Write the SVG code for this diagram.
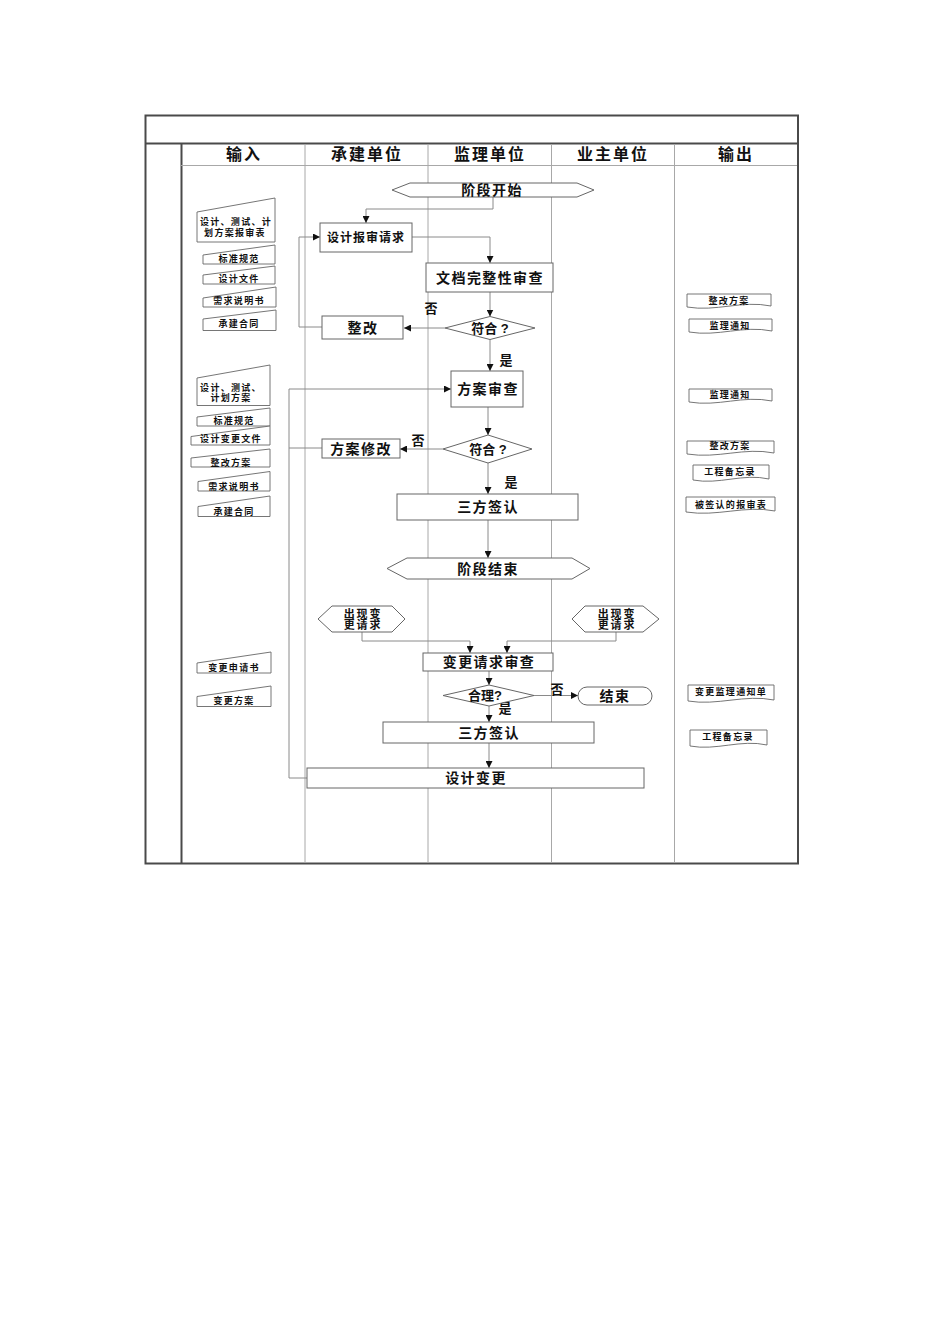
<svg xmlns="http://www.w3.org/2000/svg" width="950" height="1344" viewBox="0 0 950 1344">
<style>
text{font-family:"Liberation Sans","Noto Sans CJK SC",sans-serif;font-weight:bold;fill:#111;text-anchor:middle;dominant-baseline:central}
.hd{font-size:16px;letter-spacing:2px}
.nd{font-size:14px;letter-spacing:1.4px}
.sm{font-size:12px;letter-spacing:1px}
.hx{font-size:11px;letter-spacing:1.8px}
.dc{font-size:9px;letter-spacing:1.3px}
.lb{font-size:13px}
.box{fill:#fff;stroke:#666;stroke-width:1}
.doc{fill:#fff;stroke:#666;stroke-width:0.9}
.lane{stroke:#a8a8a8;stroke-width:1;fill:none}
.frm{stroke:#4a4a4a;stroke-width:2;fill:none}
.cn{fill:none;stroke:#8a8a8a;stroke-width:1}
</style>
<defs>
<marker id="ah" viewBox="0 0 8 8" refX="8" refY="4" markerWidth="7" markerHeight="7" markerUnits="userSpaceOnUse" orient="auto">
<path d="M0,0 L8,4 L0,8 z" fill="#111"/>
</marker>
</defs>
<rect width="950" height="1344" fill="#fff"/>
<g id="frame">
<rect class="frm" x="145.5" y="115.5" width="652.5" height="748"/>
<line class="frm" x1="145" y1="143.5" x2="798" y2="143.5"/>
<line class="frm" x1="181.5" y1="143.5" x2="181.5" y2="863"/>
<line class="lane" x1="181" y1="165.5" x2="797" y2="165.5"/>
<line class="lane" x1="305" y1="144" x2="305" y2="863"/>
<line class="lane" x1="428" y1="144" x2="428" y2="863"/>
<line class="lane" x1="551.5" y1="144" x2="551.5" y2="863"/>
<line class="lane" x1="674.5" y1="144" x2="674.5" y2="863"/>
<text class="hd" x="244" y="154.5">输入</text>
<text class="hd" x="367" y="154.5">承建单位</text>
<text class="hd" x="490" y="154.5">监理单位</text>
<text class="hd" x="613" y="154.5">业主单位</text>
<text class="hd" x="736" y="154.5">输出</text>
</g>
<g id="connectors">
<path class="cn" d="M493,197 V209 H366 V223" marker-end="url(#ah)"/>
<path class="cn" d="M412,237 H490 V263" marker-end="url(#ah)"/>
<path class="cn" d="M490,292 V316.5" marker-end="url(#ah)"/>
<path class="cn" d="M445,328 H404" marker-end="url(#ah)"/>
<path class="cn" d="M322,327 H299 V237 H320" marker-end="url(#ah)"/>
<path class="cn" d="M490,339.5 V371" marker-end="url(#ah)"/>
<path class="cn" d="M307,778 H289 V389 H451" marker-end="url(#ah)"/>
<path class="cn" d="M322,448 H289"/>
<path class="cn" d="M488,407 V435" marker-end="url(#ah)"/>
<path class="cn" d="M443,449 H400" marker-end="url(#ah)"/>
<path class="cn" d="M488,463 V494" marker-end="url(#ah)"/>
<path class="cn" d="M488,520 V558" marker-end="url(#ah)"/>
<path class="cn" d="M362,632 V641 H470 V653" marker-end="url(#ah)"/>
<path class="cn" d="M616,632 V641 H507 V653" marker-end="url(#ah)"/>
<path class="cn" d="M489,671 V685" marker-end="url(#ah)"/>
<path class="cn" d="M534,695.5 H578" marker-end="url(#ah)"/>
<path class="cn" d="M489,706 V722" marker-end="url(#ah)"/>
<path class="cn" d="M489,743 V768" marker-end="url(#ah)"/>
<text class="lb" x="431" y="308">否</text>
<text class="lb" x="506" y="360">是</text>
<text class="lb" x="418" y="440">否</text>
<text class="lb" x="511" y="482">是</text>
<text class="lb" x="557" y="689">否</text>
<text class="lb" x="505" y="708">是</text>
</g>
<g id="n-start"><polygon class="box" points="392,190 410,183 577,183 594,190 577,197 410,197"/><text class="nd" x="492" y="190">阶段开始</text></g>
<g id="n-req"><rect class="box" x="320" y="223" width="92" height="29"/><text class="sm" x="366" y="237.5">设计报审请求</text></g>
<g id="n-docchk"><rect class="box" x="426" y="263" width="127" height="29"/><text class="nd" x="490" y="277.5">文档完整性审查</text></g>
<g id="n-ok1"><polygon class="box" points="445,328 490,316.5 535,328 490,339.5"/><text class="lb" x="490" y="328">符合 ?</text></g>
<g id="n-fix"><rect class="box" x="322" y="316" width="81" height="23"/><text class="nd" x="363" y="327.5">整改</text></g>
<g id="n-plan"><rect class="box" x="451" y="371" width="72" height="36"/><text class="nd" x="488" y="389">方案审查</text></g>
<g id="n-ok2"><polygon class="box" points="443,449 488,435 532,449 488,463"/><text class="lb" x="488" y="449">符合 ?</text></g>
<g id="n-planfix"><rect class="box" x="322" y="439" width="78" height="19"/><text class="nd" x="361" y="448.5">方案修改</text></g>
<g id="n-sign1"><rect class="box" x="397" y="494" width="181" height="26"/><text class="nd" x="488" y="507">三方签认</text></g>
<g id="n-end-phase"><polygon class="box" points="387,568.5 407,558 572,558 590,568.5 572,579 407,579"/><text class="nd" x="488" y="568.5">阶段结束</text></g>
<g id="n-chg-l"><polygon class="box" points="318,619 332,606 392,606 405,619 392,632 332,632"/><text class="hx" x="363" y="613.5">出现变</text><text class="hx" x="363" y="624.5">更请求</text></g>
<g id="n-chg-r"><polygon class="box" points="572,619 585,606 643,606 659,619 643,632 585,632"/><text class="hx" x="617" y="613.5">出现变</text><text class="hx" x="617" y="624.5">更请求</text></g>
<g id="n-chgchk"><rect class="box" x="423" y="653" width="130" height="18"/><text class="nd" x="489" y="662">变更请求审查</text></g>
<g id="n-ok3"><polygon class="box" points="443,695.5 489,685 534,695.5 489,706"/><text class="lb" x="485" y="695.5">合理?</text></g>
<g id="n-end"><rect class="box" x="578" y="687" width="74" height="18" rx="9"/><text class="nd" x="615" y="696">结束</text></g>
<g id="n-sign2"><rect class="box" x="383" y="722" width="211" height="21"/><text class="nd" x="489" y="732.5">三方签认</text></g>
<g id="n-design-chg"><rect class="box" x="307" y="768" width="337" height="20"/><text class="nd" x="476" y="778">设计变更</text></g>
<g id="in-1"><polygon class="doc" points="197,212 275,198 275,242 197,242"/><text class="dc" x="236" y="222">设计、测试、计</text><text class="dc" x="235" y="232.5">划方案报审表</text></g>
<g id="in-2"><polygon class="doc" points="203,255 275,245 275,264 203,264"/><text class="dc" x="239" y="259">标准规范</text></g>
<g id="in-3"><polygon class="doc" points="203,275 275,266 275,284 203,284"/><text class="dc" x="239" y="279">设计文件</text></g>
<g id="in-4"><polygon class="doc" points="203,298 276,287 276,307 203,307"/><text class="dc" x="239" y="301">需求说明书</text></g>
<g id="in-5"><polygon class="doc" points="203,319 276,310 276,330.5 203,330.5"/><text class="dc" x="239" y="323.5">承建合同</text></g>
<g id="in-6"><polygon class="doc" points="197,378 270,365 270,405.5 197,405.5"/><text class="dc" x="231" y="388">设计、测试、</text><text class="dc" x="231" y="397.5">计划方案</text></g>
<g id="in-7"><polygon class="doc" points="197,417 270,408 270,426 197,426"/><text class="dc" x="234" y="421">标准规范</text></g>
<g id="in-8"><polygon class="doc" points="191,436.5 270,426 270,445 191,445"/><text class="dc" x="231" y="439">设计变更文件</text></g>
<g id="in-9"><polygon class="doc" points="191,458 270,449 270,467 191,467"/><text class="dc" x="231" y="462.5">整改方案</text></g>
<g id="in-10"><polygon class="doc" points="198,481.5 270,471.5 270,491 198,491"/><text class="dc" x="234" y="486.5">需求说明书</text></g>
<g id="in-11"><polygon class="doc" points="198,506.5 270,496 270,516.5 198,516.5"/><text class="dc" x="234" y="511.5">承建合同</text></g>
<g id="in-12"><polygon class="doc" points="197,663 271,652 271,673 197,673"/><text class="dc" x="234" y="667.5">变更申请书</text></g>
<g id="in-13"><polygon class="doc" points="197,696.5 271,686 271,706.5 197,706.5"/><text class="dc" x="234" y="701">变更方案</text></g>
<g id="out-1"><path class="doc" d="M687,294 H771 V306 C742,300 716,312 687,307 Z"/><text class="dc" x="729" y="300.5">整改方案</text></g>
<g id="out-2"><path class="doc" d="M689,319 H772 V331 C743,325 718,337 689,332 Z"/><text class="dc" x="730" y="325.5">监理通知</text></g>
<g id="out-3"><path class="doc" d="M689,389 H772 V401 C743,395 718,407 689,402 Z"/><text class="dc" x="730" y="395">监理通知</text></g>
<g id="out-4"><path class="doc" d="M687,441 H774 V453 C744,447 718,459 687,454 Z"/><text class="dc" x="730" y="445.5">整改方案</text></g>
<g id="out-5"><path class="doc" d="M693,465 H769 V479 C743,473 719,485 693,480 Z"/><text class="dc" x="730" y="472">工程备忘录</text></g>
<g id="out-6"><path class="doc" d="M686,497 H775 V511 C745,505 717,517 686,512 Z"/><text class="dc" x="731" y="504.5">被签认的报审表</text></g>
<g id="out-7"><path class="doc" d="M688,685 H774 V700 C745,694 717,706 688,701 Z"/><text class="dc" x="731" y="692">变更监理通知单</text></g>
<g id="out-8"><path class="doc" d="M690,730 H767 V745 C741,739 716,751 690,746 Z"/><text class="dc" x="728" y="736.5">工程备忘录</text></g>
</svg>
